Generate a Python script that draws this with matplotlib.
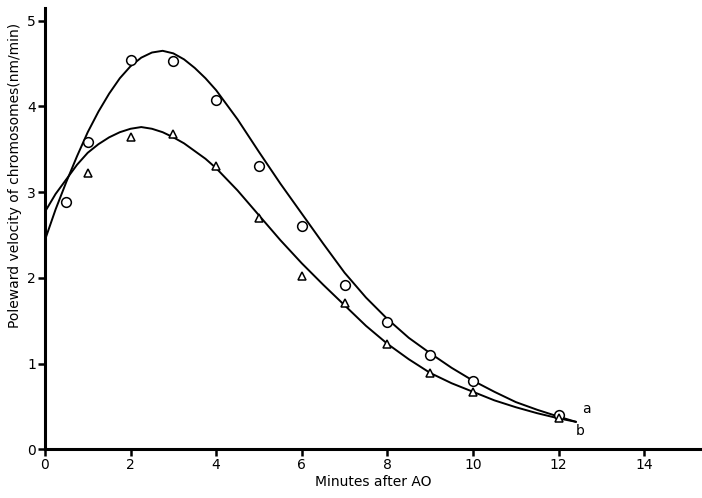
import matplotlib.pyplot as plt

# Measured points
a_x = [0.5, 1, 2, 3, 4, 5, 6, 7, 8, 9, 10, 12]
a_y = [2.89, 3.58, 4.54, 4.53, 4.08, 3.31, 2.60, 1.92, 1.49, 1.10, 0.80, 0.40]
b_x = [1, 2, 3, 4, 5, 6, 7, 8, 9, 10, 12]
b_y = [3.22, 3.64, 3.68, 3.31, 2.70, 2.02, 1.71, 1.23, 0.89, 0.67, 0.36]

# Fitted curves
curve_x = [0, 0.25, 0.5, 0.75, 1, 1.25, 1.5, 1.75, 2, 2.25, 2.5, 2.75, 3, 3.25,
           3.5, 3.75, 4, 4.5, 5, 5.5, 6, 6.5, 7, 7.5, 8, 8.5, 9, 9.5, 10, 10.5,
           11, 11.5, 12, 12.4]
curve_a = [2.44, 2.80, 3.12, 3.42, 3.70, 3.94, 4.15, 4.33, 4.47, 4.57, 4.63, 4.65,
           4.62, 4.55, 4.45, 4.33, 4.19, 3.85, 3.47, 3.10, 2.75, 2.40, 2.06, 1.77,
           1.52, 1.30, 1.12, 0.95, 0.80, 0.67, 0.55, 0.46, 0.38, 0.32]
curve_b = [2.77, 2.98, 3.15, 3.32, 3.46, 3.56, 3.64, 3.70, 3.74, 3.76, 3.74, 3.70,
           3.64, 3.57, 3.48, 3.39, 3.28, 3.02, 2.73, 2.44, 2.17, 1.92, 1.68, 1.44,
           1.23, 1.05, 0.89, 0.77, 0.67, 0.57, 0.49, 0.42, 0.36, 0.32]

fig = plt.figure(figsize=(7.02, 4.98), dpi=100)
ax = fig.add_axes([0.064, 0.098, 0.936, 0.886])

ax.plot(curve_x, curve_a, color="black", lw=1.4, solid_joinstyle="round")
ax.plot(curve_x, curve_b, color="black", lw=1.4, solid_joinstyle="round")
ax.plot(a_x, a_y, "o", mfc="white", mec="black", ms=7, mew=1.1)
ax.plot(b_x, b_y, "^", mfc="white", mec="black", ms=6, mew=1.1)

ax.text(12.55, 0.42, "a", fontsize=10)
ax.text(12.4, 0.16, "b", fontsize=10)

ax.set_xlim(0, 15.35)
ax.set_ylim(0, 5.15)
ax.set_xticks(range(0, 15, 2))
ax.set_yticks(range(0, 6))

for side in ["top", "right"]:
    ax.spines[side].set_visible(False)
for side in ["left", "bottom"]:
    ax.spines[side].set_linewidth(2.2)

ax.tick_params(direction="out", width=1.8, length=5, labelsize=10, pad=1.5)
ax.set_xlabel("Minutes after AO", fontsize=10, labelpad=2)
ax.set_ylabel("Poleward velocity of chromosomes(nm/min)", fontsize=10, labelpad=2)
ax.yaxis.set_label_coords(-0.035, 0.62)

fig.savefig("out.png", dpi=100)
